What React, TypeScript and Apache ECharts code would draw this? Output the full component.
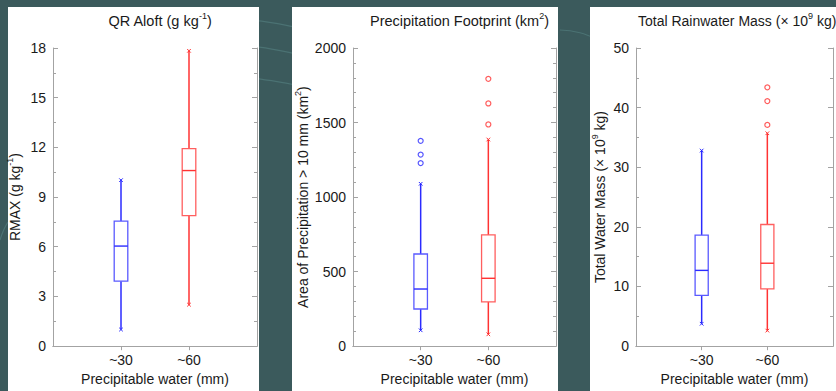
import React, { useEffect, useRef } from 'react';
import * as echarts from 'echarts';

// x positions: blank, ~30, ~60, blank (so groups sit at 1/3 and 2/3 of the frame)
const categories = ['', '~30', '~60', ''];
const groupColors = ['#2b2bff', '#ff3333'];
const boxColors = ['#5a5aff', '#ff5f5f'];

// Box statistics per group: [low whisker, Q1, median, Q3, high whisker]
const qrAloftStats = [
  [1.0, 3.92, 6.04, 7.55, 10.02],
  [2.5, 7.88, 10.6, 11.92, 17.83],
];
const qrAloftOutliers: number[][] = [[], []];

const footprintStats = [
  [106, 249, 383, 618, 1089],
  [79, 297, 455, 746, 1386],
];
const footprintOutliers = [
  [1228, 1285, 1377],
  [1487, 1628, 1793],
];

const massStats = [
  [3.75, 8.5, 12.7, 18.6, 32.8],
  [2.6, 9.6, 13.9, 20.4, 35.7],
];
const massOutliers: number[][] = [[], [37.1, 41.1, 43.4]];

const panels = [
  {
    title: '{a|QR Aloft (g kg}{s|-1}{a|)}',
    yName: '{a|RMAX (g kg}{s|-1}{a|)}',
    yMax: 18, yInterval: 3, minorSplit: 2,
    stats: qrAloftStats, outliers: qrAloftOutliers,
    left: 53, width: 204, nameGap: 28,
    panelX: 8, panelW: 251, titleLeft: null as number | null, titleSize: 14.5,
  },
  {
    title: '{a|Precipitation Footprint (km}{s|2}{a|)}',
    yName: '{a|Area of Precipitation > 10 mm (km}{s|2}{a|)}',
    yMax: 2000, yInterval: 500, minorSplit: 5,
    stats: footprintStats, outliers: footprintOutliers,
    left: 353, width: 203, nameGap: 40,
    panelX: 292, panelW: 266, titleLeft: null as number | null, titleSize: 14.5,
  },
  {
    title: '{a|Total Rainwater Mass (× 10}{s|9}{a| kg)}',
    yName: '{a|Total Water Mass (× 10}{s|9}{a| kg)}',
    yMax: 50, yInterval: 10, minorSplit: 2,
    stats: massStats, outliers: massOutliers,
    left: 636, width: 201, nameGap: 26,
    panelX: 590, panelW: 260, titleLeft: 633 as number | null, titleSize: 14,
  },
];

const FONT = '"Liberation Sans", Arial, Helvetica, sans-serif';
const AXIS_GREY = '#a3a3a3';
const GRID_TOP = 48;
const GRID_BOTTOM = 40;

const richSup = (size: number) => ({
  a: { fontSize: size, lineHeight: 20, verticalAlign: 'middle', color: '#1a1a1a', fontFamily: FONT },
  s: { fontSize: 9, verticalAlign: 'top', color: '#1a1a1a', fontFamily: FONT },
});

export default function App() {
  const ref = useRef<HTMLDivElement>(null);

  useEffect(() => {
    if (!ref.current) return;
    const chart = echarts.init(ref.current, null, { renderer: 'svg' });

    const grid: any[] = [];
    const xAxis: any[] = [];
    const yAxis: any[] = [];
    const series: any[] = [];
    const title: any[] = [];
    const graphic: any[] = [];

    // faint decorative curves in the background
    const curves = [
      [[250, 20], [275, 22], [300, 28], [330, 35]],
      [[250, 46], [275, 48], [300, 55], [330, 62]],
      [[250, 78], [275, 80], [300, 86], [330, 92]],
      [[560, 30], [575, 30], [585, 34], [600, 40]],
      [[0, 240], [3, 230], [6, 225], [8, 222]],
    ];
    curves.forEach((c) => {
      graphic.push({
        type: 'bezierCurve', z: -10, silent: true,
        shape: { x1: c[0][0], y1: c[0][1], cpx1: c[1][0], cpy1: c[1][1], cpx2: c[2][0], cpy2: c[2][1], x2: c[3][0], y2: c[3][1] },
        style: { stroke: '#4b7273', lineWidth: 1.2, fill: null },
      });
    });

    panels.forEach((p, i) => {
      graphic.push({
        type: 'rect', z: -5, silent: true,
        shape: { x: p.panelX, y: 7, width: p.panelW, height: 400 },
        style: { fill: '#ffffff' },
      });

      grid.push({ left: p.left, top: GRID_TOP, width: p.width, bottom: GRID_BOTTOM, containLabel: false });

      title.push({
        text: p.title,
        left: p.titleLeft != null ? p.titleLeft : p.left + p.width / 2,
        top: 6,
        textAlign: p.titleLeft != null ? 'left' : 'center',
        textStyle: { fontSize: p.titleSize, fontWeight: 'normal', fontFamily: FONT, rich: richSup(p.titleSize) },
      });

      const tickInterval = (_idx: number, v: string) => v !== '';
      xAxis.push({
        gridIndex: i, type: 'category', data: categories, boundaryGap: false, position: 'bottom',
        axisLine: { show: true, lineStyle: { color: AXIS_GREY, width: 1 } },
        axisTick: { show: true, inside: false, length: 4, interval: tickInterval, lineStyle: { color: AXIS_GREY } },
        axisLabel: { interval: 0, color: '#1a1a1a', fontSize: 14, fontFamily: FONT, margin: 7 },
        splitLine: { show: false },
        name: 'Precipitable water (mm)', nameLocation: 'middle', nameGap: 24,
        nameTextStyle: { fontSize: 14, color: '#1a1a1a', fontFamily: FONT },
      });
      xAxis.push({
        gridIndex: i, type: 'category', data: categories, boundaryGap: false, position: 'top',
        axisLine: { show: true, lineStyle: { color: AXIS_GREY, width: 1 } },
        axisTick: { show: true, inside: true, length: 4, interval: tickInterval, lineStyle: { color: AXIS_GREY } },
        axisLabel: { show: false },
        splitLine: { show: false },
      });
      yAxis.push({
        gridIndex: i, type: 'value', min: 0, max: p.yMax, interval: p.yInterval, position: 'left',
        axisLine: { show: true, lineStyle: { color: AXIS_GREY, width: 1 } },
        axisTick: { show: true, inside: true, length: 5, lineStyle: { color: AXIS_GREY } },
        minorTick: { show: true, splitNumber: p.minorSplit, length: 3, lineStyle: { color: AXIS_GREY } },
        axisLabel: { color: '#1a1a1a', fontSize: 14, fontFamily: FONT, margin: 7, formatter: (v: number) => String(v) },
        splitLine: { show: false },
        name: p.yName, nameLocation: 'middle', nameGap: p.nameGap, nameRotate: 90,
        nameTextStyle: { fontSize: 14, fontFamily: FONT, rich: richSup(14) },
      });
      yAxis.push({
        gridIndex: i, type: 'value', min: 0, max: p.yMax, interval: p.yInterval, position: 'right',
        axisLine: { show: true, lineStyle: { color: AXIS_GREY, width: 1 } },
        axisTick: { show: true, inside: true, length: 5, lineStyle: { color: AXIS_GREY } },
        minorTick: { show: true, splitNumber: p.minorSplit, length: 3, lineStyle: { color: AXIS_GREY } },
        axisLabel: { show: false },
        splitLine: { show: false },
      });

      const boxData = p.stats.map((s, g) => [g + 1, ...s, g]);
      series.push({
        type: 'custom',
        xAxisIndex: i * 2, yAxisIndex: i * 2,
        data: boxData,
        encode: { x: 0, y: [1, 2, 3, 4, 5] },
        renderItem: (_params: any, api: any) => {
          const x = api.value(0);
          const g = api.value(6);
          const c = groupColors[g];
          const bc = boxColors[g];
          const lo = api.coord([x, api.value(1)]);
          const q1 = api.coord([x, api.value(2)]);
          const md = api.coord([x, api.value(3)]);
          const q3 = api.coord([x, api.value(4)]);
          const hi = api.coord([x, api.value(5)]);
          const w = api.size([1, 0])[0] * 0.2;
          const cx = lo[0];
          const m = 1.8;
          const cross = (y: number) => [
            { type: 'line', shape: { x1: cx - m, y1: y - m, x2: cx + m, y2: y + m }, style: { stroke: c, lineWidth: 1 } },
            { type: 'line', shape: { x1: cx - m, y1: y + m, x2: cx + m, y2: y - m }, style: { stroke: c, lineWidth: 1 } },
          ];
          return {
            type: 'group',
            children: [
              { type: 'line', shape: { x1: cx, y1: lo[1], x2: cx, y2: q1[1] }, style: { stroke: c, lineWidth: 1.5 } },
              { type: 'line', shape: { x1: cx, y1: q3[1], x2: cx, y2: hi[1] }, style: { stroke: c, lineWidth: 1.5 } },
              { type: 'rect', shape: { x: cx - w / 2, y: q3[1], width: w, height: q1[1] - q3[1] }, style: { stroke: bc, fill: '#ffffff', lineWidth: 1.3 } },
              { type: 'line', shape: { x1: cx - w / 2, y1: md[1], x2: cx + w / 2, y2: md[1] }, style: { stroke: c, lineWidth: 1.4 } },
              ...cross(lo[1]),
              ...cross(hi[1]),
            ],
          };
        },
      });

      const outlierData: any[] = [];
      p.outliers.forEach((arr, g) => {
        arr.forEach((v) => outlierData.push({ value: [g + 1, v], itemStyle: { color: '#ffffff', borderColor: groupColors[g], borderWidth: 1.2 } }));
      });
      if (outlierData.length) {
        series.push({
          type: 'scatter', xAxisIndex: i * 2, yAxisIndex: i * 2,
          symbol: 'circle', symbolSize: 5, data: outlierData,
        });
      }
    });

    chart.setOption({
      animation: false,
      backgroundColor: '#3b5a5c',
      textStyle: { fontFamily: FONT },
      title, grid, xAxis, yAxis, series, graphic,
    });

    return () => chart.dispose();
  }, []);

  return (
    <div
      ref={ref}
      style={{ position: 'absolute', left: 0, top: 0, width: 836, height: 391 }}
    />
  );
}
